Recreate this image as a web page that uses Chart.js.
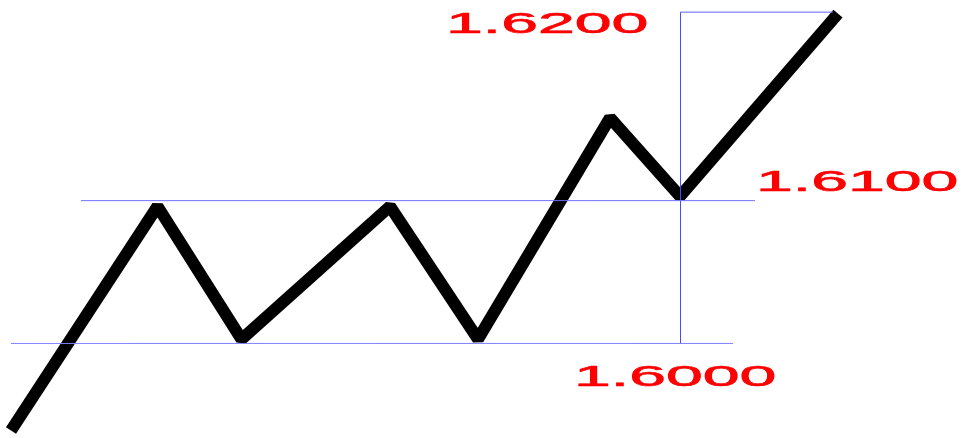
<!DOCTYPE html>
<html>
<head>
<meta charset="utf-8">
<script src="https://cdn.jsdelivr.net/npm/chart.js@4"></script>
<style>
  html, body { margin: 0; padding: 0; background: #fff; }
  #wrap { width: 963px; height: 438px; }
</style>
</head>
<body>
<div id="wrap"><canvas id="chart" width="963" height="438"></canvas></div>
<script>
// price path (x = bar number, y = price)
const pathBars = [1.1, 15.75, 24.15, 39.0, 47.8, 61.0, 68.0, 83.8];
const pathPrices = [1.5939, 1.6096, 1.6003, 1.6096, 1.6003, 1.6158, 1.6103, 1.6231];

// guide levels
const supportLevel = 1.6000;
const breakoutLevel = 1.6100;
const targetLevel = 1.6232;
const supportBars = [1.1, 73.3];
const breakoutBars = [8.1, 75.5];
const projectionBar = 68.05;
const targetBars = [68.05, 83.3];

// labels
const labelTexts = ['1.6200', '1.6100', '1.6000'];
const labelLevels = [targetLevel, breakoutLevel, supportLevel];

const toPoints = (xs, ys) => xs.map((x, i) => ({ x: x, y: ys[i] }));

const priceLabels = {
    id: 'priceLabels',
    afterDatasetsDraw(chart, args, opts) {
        const ctx = chart.ctx;
        const xs = chart.scales.x;
        const ys = chart.scales.y;
        ctx.save();
        ctx.fillStyle = '#ff0000';
        ctx.strokeStyle = '#ff0000';
        ctx.lineWidth = 0.6;
        ctx.font = '29px "Liberation Sans", Arial, sans-serif';
        ctx.textAlign = 'left';
        ctx.textBaseline = 'alphabetic';
        labelTexts.forEach((text, i) => {
            const p = opts.place[i];
            const px = xs.getPixelForValue(p.x);
            const py = ys.getPixelForValue(labelLevels[i]) + p.dy;
            ctx.save();
            ctx.translate(px, py);
            ctx.scale(opts.stretch, 1);
            ctx.fillText(text, 0, 0);
            ctx.strokeText(text, 0, 0);
            ctx.restore();
        });
        ctx.restore();
    }
};

new Chart(document.getElementById('chart'), {
    type: 'scatter',
    data: {
        datasets: [
            {
                data: toPoints(supportBars, [supportLevel, supportLevel]),
                showLine: true, borderColor: '#8080ff', borderWidth: 1,
                pointRadius: 0, order: 0
            },
            {
                data: toPoints(breakoutBars, [breakoutLevel, breakoutLevel]),
                showLine: true, borderColor: '#7070ff', borderWidth: 1,
                pointRadius: 0, order: 0
            },
            {
                data: toPoints([projectionBar, projectionBar], [supportLevel, targetLevel]),
                showLine: true, borderColor: '#4a4aff', borderWidth: 1,
                pointRadius: 0, order: 0
            },
            {
                data: toPoints(targetBars, [targetLevel, targetLevel]),
                showLine: true, borderColor: '#6060ff', borderWidth: 1,
                pointRadius: 0, order: 0
            },
            {
                data: toPoints(pathBars, pathPrices),
                showLine: true, borderColor: '#000000', borderWidth: 12,
                borderJoinStyle: 'bevel', borderCapStyle: 'butt',
                tension: 0, pointRadius: 0, order: 1
            }
        ]
    },
    options: {
        responsive: false,
        animation: false,
        layout: { padding: 0 },
        scales: {
            x: { type: 'linear', display: false, min: 0, max: 96.3 },
            y: { type: 'linear', display: false, min: 1.59338, max: 1.62405 }
        },
        plugins: {
            legend: { display: false },
            tooltip: { enabled: false },
            priceLabels: {
                stretch: 2.28,
                place: [
                    { x: 44.6, dy: 21.3 },
                    { x: 75.6, dy: -9.7 },
                    { x: 57.4, dy: 42.5 }
                ]
            }
        }
    },
    plugins: [priceLabels]
});
</script>
</body>
</html>
